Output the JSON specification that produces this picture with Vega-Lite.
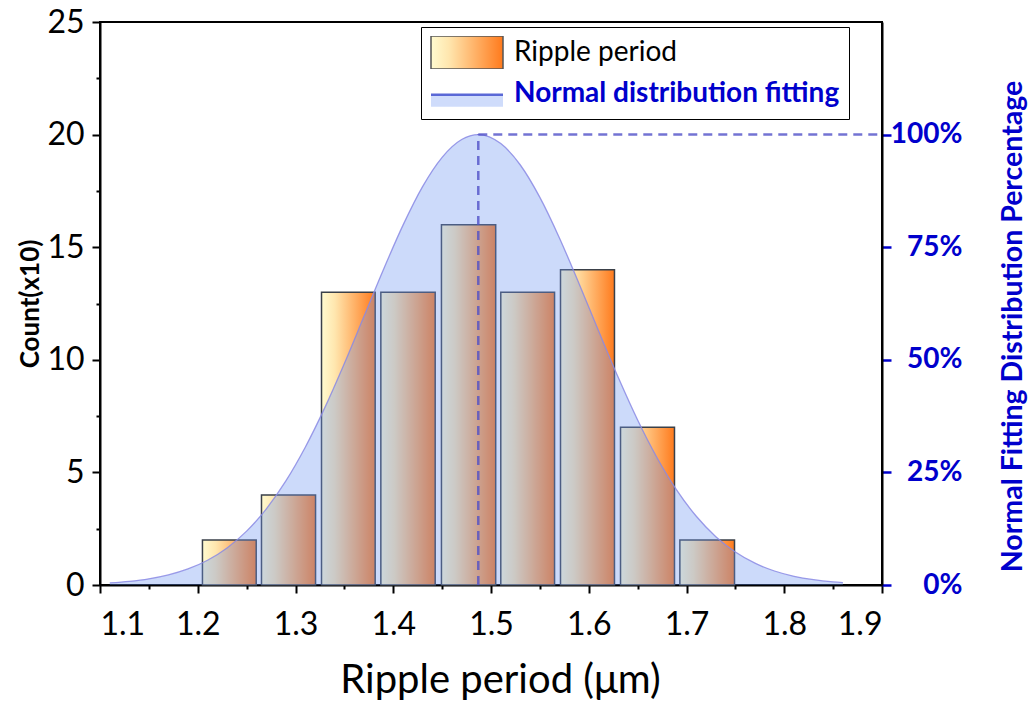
{
  "$schema": "https://vega.github.io/schema/vega-lite/v6.json",
  "width": 782,
  "height": 563,
  "autosize": "none",
  "padding": {"left": 100, "top": 22, "right": 147, "bottom": 117},
  "background": "white",
  "config": {
    "font": "Lato",
    "view": {"stroke": "black", "strokeWidth": 2},
    "axis": {"grid": false, "domainColor": "black", "domainWidth": 2, "tickColor": "black", "tickWidth": 2, "labelColor": "black"}
  },
  "datasets": {
    "bars": [
      {"start": 1.2043, "end": 1.2593, "count": 2},
      {"start": 1.2647, "end": 1.3200, "count": 4},
      {"start": 1.3261, "end": 1.3810, "count": 13},
      {"start": 1.3868, "end": 1.4424, "count": 13},
      {"start": 1.4488, "end": 1.5043, "count": 16},
      {"start": 1.5095, "end": 1.5645, "count": 13},
      {"start": 1.5706, "end": 1.6258, "count": 14},
      {"start": 1.6320, "end": 1.6872, "count": 7},
      {"start": 1.6927, "end": 1.7486, "count": 2}
    ],
    "curve": [
      {"x": 1.11, "y": 0.093}, {"x": 1.13, "y": 0.162}, {"x": 1.15, "y": 0.273}, {"x": 1.17, "y": 0.448},
      {"x": 1.19, "y": 0.712}, {"x": 1.21, "y": 1.100}, {"x": 1.23, "y": 1.647}, {"x": 1.25, "y": 2.392},
      {"x": 1.27, "y": 3.372}, {"x": 1.29, "y": 4.611}, {"x": 1.31, "y": 6.118}, {"x": 1.33, "y": 7.876},
      {"x": 1.35, "y": 9.837}, {"x": 1.37, "y": 11.92}, {"x": 1.39, "y": 14.01}, {"x": 1.41, "y": 15.98},
      {"x": 1.43, "y": 17.69}, {"x": 1.45, "y": 18.99}, {"x": 1.47, "y": 19.78}, {"x": 1.487, "y": 20.0},
      {"x": 1.51, "y": 19.60}, {"x": 1.53, "y": 18.65}, {"x": 1.55, "y": 17.21}, {"x": 1.57, "y": 15.41},
      {"x": 1.59, "y": 13.39}, {"x": 1.61, "y": 11.29}, {"x": 1.63, "y": 9.232}, {"x": 1.65, "y": 7.325},
      {"x": 1.67, "y": 5.639}, {"x": 1.69, "y": 4.211}, {"x": 1.71, "y": 3.052}, {"x": 1.73, "y": 2.145},
      {"x": 1.75, "y": 1.463}, {"x": 1.77, "y": 0.968}, {"x": 1.79, "y": 0.622}, {"x": 1.81, "y": 0.387},
      {"x": 1.83, "y": 0.234}, {"x": 1.85, "y": 0.137}, {"x": 1.86, "y": 0.104}
    ],
    "peak": [{"x": 1.487, "xend": 1.9, "base": 0, "count": 20, "pct": 1}]
  },
  "layer": [
    {
      "layer": [
        {
          "data": {"name": "bars"},
          "mark": {
            "type": "bar",
            "binSpacing": 0,
            "fill": {"gradient": "linear", "x1": 0, "y1": 0, "x2": 1, "y2": 0,
              "stops": [{"offset": 0, "color": "#fffbd0"}, {"offset": 0.25, "color": "#ffe6ae"}, {"offset": 1, "color": "#ff7a1c"}]},
            "stroke": "#3a4049",
            "strokeWidth": 1.5
          },
          "encoding": {
            "x": {"field": "start", "bin": "binned", "type": "quantitative", "scale": {"domain": [1.1, 1.9], "nice": false, "zero": false},
              "axis": {"orient": "bottom", "values": [1.1, 1.2, 1.3, 1.4, 1.5, 1.6, 1.7, 1.8, 1.9], "format": ".1f",
                "labelFontSize": 32, "labelPadding": 16, "tickSize": 8,
                "title": "Ripple period (μm)", "titleFontSize": 40, "titleFontWeight": "normal", "titleX": 400, "titleY": 95,
                "titleAlign": "center", "titleBaseline": "middle"}},
            "x2": {"field": "end"},
            "y": {"field": "count", "type": "quantitative", "scale": {"domain": [0, 25], "nice": false},
              "axis": {"orient": "left", "values": [0, 5, 10, 15, 20, 25], "labelFontSize": 32, "labelPadding": 8, "tickSize": 8,
                "title": "Count(x10)", "titleFontSize": 26, "titleFontWeight": "bold", "titleAngle": -90, "titleX": -70, "titleY": 281.5,
                "titleAlign": "center", "titleBaseline": "middle"}}
          }
        },
        {
          "data": {"name": "curve"},
          "mark": {"type": "area", "interpolate": "monotone",
            "fill": {"expr": "datum.value === 'Ripple period' ? {gradient: 'linear', x1: 0, y1: 0, x2: 1, y2: 0, stops: [{offset: 0, color: '#fffbd0'}, {offset: 0.25, color: '#ffe6ae'}, {offset: 1, color: '#ff7a1c'}]} : datum.value === 'Normal distribution fitting' ? {gradient: 'linear', x1: 0, y1: 0, x2: 0, y2: 1, stops: [{offset: 0, color: '#5a68d6'}, {offset: 0.2, color: '#5a68d6'}, {offset: 0.2, color: '#cfdcfb'}, {offset: 1, color: '#cfdcfb'}]} : '#6e96f0'"},
            "fillOpacity": 0.35, "strokeWidth": 1.5},
          "encoding": {
            "x": {"field": "x", "type": "quantitative", "scale": {"domain": [1.1, 1.9], "nice": false, "zero": false},
              "axis": {"orient": "bottom", "values": [1.15, 1.25, 1.35, 1.45, 1.55, 1.65, 1.75, 1.85], "labels": false, "domain": false, "tickSize": 4, "title": null}},
            "y": {"field": "y", "type": "quantitative", "scale": {"domain": [0, 25], "nice": false},
              "axis": {"orient": "left", "values": [2.5, 7.5, 12.5, 17.5, 22.5], "labels": false, "domain": false, "tickSize": 4, "title": null}},
            "stroke": {"datum": "Normal distribution fitting", "type": "nominal",
              "scale": {"domain": ["Ripple period", "Normal distribution fitting"], "range": ["#555555", "transparent"]},
              "legend": {
                "orient": "none", "legendX": 321, "legendY": 5, "title": null,
                "strokeColor": "black", "fillColor": "white", "padding": 9,
                "symbolSize": 5184, "clipHeight": 33, "rowPadding": 8, "labelOffset": 10,
                "symbolType": {"expr": "datum.value === 'Ripple period' ? 'M-1,-0.458L1,-0.458L1,0.458L-1,0.458Z' : 'M-1,0L1,0L1,0.37L-1,0.37Z'"},
                "symbolStrokeWidth": 1.5, "symbolOpacity": 1,
                "labelColor": {"expr": "datum.value === 'Ripple period' ? 'black' : '#0000cc'"},
                "labelFontWeight": {"expr": "datum.value === 'Ripple period' ? 'normal' : 'bold'"},
                "labelFontSize": 28,
                "labelLimit": 600
              }}
          }
        },
        {
          "data": {"name": "curve"},
          "mark": {"type": "line", "interpolate": "monotone", "color": "#8a8ae4", "strokeWidth": 1.3, "opacity": 0.85},
          "encoding": {
            "x": {"field": "x", "type": "quantitative", "scale": {"domain": [1.1, 1.9], "nice": false, "zero": false}, "axis": null},
            "y": {"field": "y", "type": "quantitative", "scale": {"domain": [0, 25], "nice": false}, "axis": null}
          }
        },
        {
          "data": {"name": "peak"},
          "mark": {"type": "rule", "color": "#5050c8", "opacity": 0.8, "strokeWidth": 2.5, "strokeDash": [9, 6]},
          "encoding": {
            "x": {"field": "x", "type": "quantitative", "scale": {"domain": [1.1, 1.9], "nice": false, "zero": false}, "axis": null},
            "y": {"field": "base", "type": "quantitative", "scale": {"domain": [0, 25], "nice": false}, "axis": null},
            "y2": {"field": "count"}
          }
        }
      ],
      "resolve": {"axis": {"x": "independent", "y": "independent"}}
    },
    {
      "data": {"name": "peak"},
      "mark": {"type": "rule", "color": "#5050c8", "opacity": 0.8, "strokeWidth": 2.5, "strokeDash": [9, 6]},
      "encoding": {
        "x": {"field": "x", "type": "quantitative", "scale": {"domain": [1.1, 1.9], "nice": false, "zero": false}, "axis": null},
        "x2": {"field": "xend"},
        "y": {"field": "pct", "type": "quantitative", "scale": {"domain": [0, 1.25], "nice": false},
          "axis": {"orient": "right", "values": [0, 0.25, 0.5, 0.75, 1], "format": ".0%",
            "labelColor": "#0000cc", "labelFontWeight": "bold", "labelFontSize": 28, "labelAlign": "right", "labelPadding": 71,
            "tickColor": "#0000cc", "tickWidth": 2.5, "tickSize": 9,
            "title": "Normal Fitting Distribution Percentage", "titleColor": "#0000cc", "titleFontWeight": "bold", "titleFontSize": 28.5,
            "titleAngle": -90, "titleX": 130, "titleY": 304, "titleAlign": "center", "titleBaseline": "middle"}}
      }
    }
  ],
  "resolve": {"scale": {"y": "independent"}}
}
